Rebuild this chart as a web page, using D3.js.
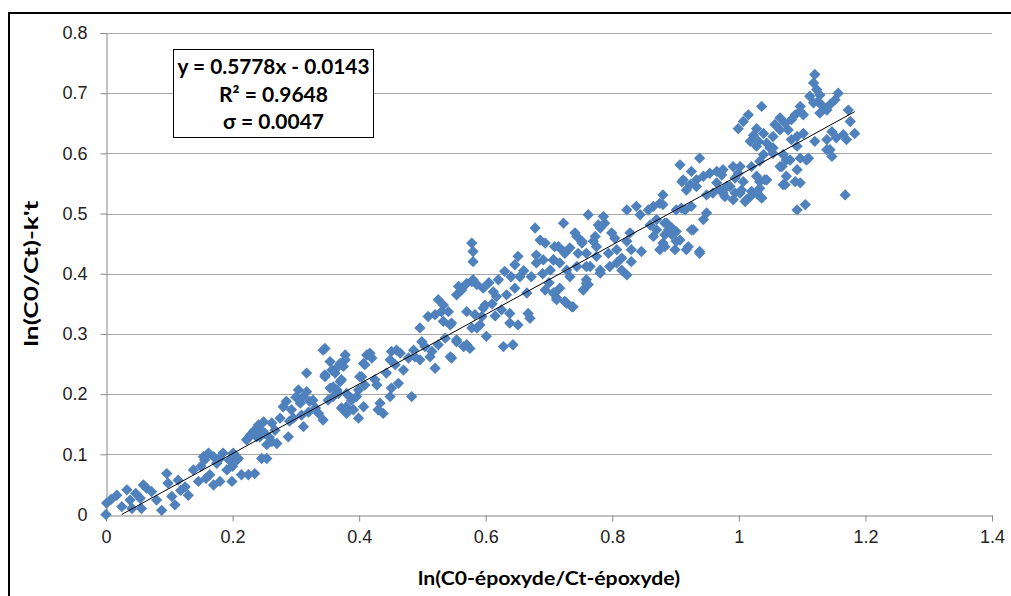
<!DOCTYPE html>
<html>
<head>
<meta charset="utf-8">
<script src="https://cdn.jsdelivr.net/npm/d3@7"></script>
<style>
  body { margin: 0; background: #fff; }
  svg { display: block; font-family: Lato, "Open Sans", sans-serif; }
</style>
</head>
<body>
<svg></svg>
<script>
const width = 1011;
const height = 596;

// x = ln(C0-epoxyde/Ct-epoxyde), y = ln(C0/Ct)-k't
const points = [
  [0.000,0.000],[0.001,0.019],[0.017,0.032],[0.033,0.041],[0.025,0.013],[0.038,0.024],[0.041,0.010],
  [0.054,0.027],[0.059,0.049],[0.064,0.044],[0.056,0.010],[0.080,0.024],[0.088,0.007],[0.096,0.068],
  [0.098,0.052],[0.104,0.030],[0.109,0.016],[0.114,0.057],[0.125,0.046],[0.130,0.032],[0.138,0.074],
  [0.146,0.055],[0.154,0.096],[0.162,0.102],[0.164,0.066],[0.170,0.049],[0.175,0.085],[0.180,0.055],
  [0.185,0.102],[0.191,0.074],[0.199,0.055],[0.207,0.091],[0.214,0.066],[0.225,0.066],[0.235,0.068],
  [0.225,0.127],[0.235,0.140],[0.243,0.129],[0.246,0.093],[0.008,0.025],[0.047,0.035],[0.072,0.038],
  [0.118,0.040],[0.150,0.080],[0.158,0.060],[0.195,0.090],[0.200,0.080],
  [0.156,0.091],[0.170,0.096],[0.180,0.093],[0.201,0.102],[0.209,0.093],[0.254,0.093],[0.222,0.124],
  [0.233,0.138],[0.241,0.149],[0.249,0.154],[0.238,0.129],[0.251,0.135],[0.262,0.152],[0.267,0.140],
  [0.262,0.121],[0.270,0.118],[0.288,0.129],[0.280,0.179],[0.285,0.188],[0.293,0.174],[0.304,0.207],
  [0.312,0.196],[0.317,0.204],[0.307,0.185],[0.322,0.188],[0.309,0.165],[0.312,0.146],[0.331,0.177],
  [0.327,0.190],[0.336,0.168],[0.343,0.157],[0.317,0.235],[0.343,0.273],[0.354,0.254],[0.346,0.232],
  [0.362,0.235],[0.370,0.251],[0.378,0.265],[0.375,0.246],[0.354,0.210],[0.365,0.207],[0.370,0.221],
  [0.359,0.196],[0.380,0.201],[0.388,0.190],[0.396,0.196],[0.372,0.177],[0.380,0.168],[0.399,0.160],
  [0.407,0.251],[0.412,0.265],[0.401,0.229],[0.409,0.215],[0.407,0.179],[0.254,0.116],[0.275,0.160],
  [0.296,0.160],[0.300,0.195],[0.320,0.170],[0.290,0.155],[0.258,0.128],[0.245,0.140],[0.228,0.132],
  [0.346,0.276],[0.357,0.240],[0.346,0.229],[0.367,0.246],[0.378,0.257],[0.372,0.224],[0.359,0.212],
  [0.367,0.201],[0.351,0.190],[0.388,0.193],[0.380,0.179],[0.391,0.174],[0.399,0.207],[0.404,0.229],
  [0.409,0.249],[0.417,0.268],[0.420,0.260],[0.425,0.224],[0.428,0.215],[0.433,0.185],[0.430,0.174],
  [0.438,0.168],[0.443,0.235],[0.449,0.257],[0.451,0.271],[0.459,0.273],[0.465,0.268],[0.457,0.249],
  [0.462,0.218],[0.451,0.210],[0.449,0.196],[0.483,0.196],[0.470,0.240],[0.478,0.260],[0.486,0.273],
  [0.488,0.262],[0.496,0.310],[0.499,0.287],[0.504,0.279],[0.496,0.257],[0.512,0.262],[0.520,0.243],
  [0.515,0.271],[0.509,0.329],[0.520,0.332],[0.525,0.357],[0.533,0.348],[0.533,0.321],[0.525,0.282],
  [0.536,0.293],[0.541,0.337],[0.546,0.318],[0.546,0.260],[0.554,0.290],[0.554,0.365],[0.562,0.376],
  [0.570,0.384],[0.580,0.390],[0.586,0.382],[0.596,0.376],[0.570,0.337],[0.565,0.279],[0.575,0.276],
  [0.586,0.310],[0.594,0.329],[0.599,0.348],[0.601,0.296],
  [0.578,0.451],[0.580,0.437],[0.580,0.420],[0.578,0.387],[0.557,0.379],[0.562,0.373],[0.530,0.337],
  [0.544,0.315],[0.583,0.332],[0.596,0.343],[0.591,0.315],[0.578,0.310],[0.570,0.282],[0.554,0.287],
  [0.544,0.262],[0.628,0.279],[0.643,0.282],[0.612,0.370],[0.617,0.362],[0.630,0.404],[0.633,0.365],
  [0.638,0.334],[0.638,0.318],[0.651,0.315],[0.667,0.334],[0.670,0.326],[0.651,0.429],[0.646,0.415],
  [0.654,0.395],[0.665,0.368],[0.646,0.376],[0.680,0.431],[0.680,0.418],[0.691,0.423],[0.678,0.476],
  [0.686,0.456],[0.694,0.451],[0.694,0.373],[0.702,0.406],[0.707,0.423],[0.709,0.368],[0.712,0.357],
  [0.717,0.376],[0.715,0.445],[0.723,0.484],[0.725,0.434],[0.728,0.351],[0.738,0.345],[0.733,0.395],
  [0.744,0.462],[0.752,0.451],[0.746,0.434],[0.762,0.498],[0.765,0.412],[0.759,0.390],[0.754,0.373],
  [0.773,0.462],[0.775,0.445],[0.778,0.481],[0.605,0.385],[0.620,0.390],[0.640,0.395],[0.660,0.405],
  [0.672,0.395],[0.690,0.400],[0.700,0.385],[0.610,0.350],[0.625,0.340],[0.615,0.330],
  [0.786,0.495],[0.788,0.484],[0.741,0.468],[0.752,0.454],[0.781,0.476],[0.770,0.454],[0.799,0.468],
  [0.804,0.459],[0.709,0.445],[0.723,0.437],[0.733,0.443],[0.759,0.434],[0.775,0.429],[0.794,0.434],
  [0.807,0.440],[0.823,0.454],[0.828,0.468],[0.815,0.426],[0.830,0.440],[0.846,0.437],[0.830,0.420],
  [0.707,0.423],[0.717,0.418],[0.728,0.406],[0.744,0.412],[0.759,0.412],[0.781,0.406],[0.796,0.412],
  [0.807,0.418],[0.759,0.384],[0.781,0.401],[0.815,0.406],[0.823,0.398],[0.762,0.382],[0.707,0.368],
  [0.712,0.360],[0.725,0.354],[0.736,0.345],[0.823,0.506],[0.838,0.512],[0.844,0.498],[0.857,0.506],
  [0.865,0.512],[0.875,0.517],[0.880,0.531],[0.860,0.481],[0.870,0.490],[0.870,0.473],[0.883,0.484],
  [0.889,0.473],[0.865,0.462],[0.875,0.440],[0.880,0.451],[0.894,0.465],[0.901,0.454],[0.901,0.506],
  [0.909,0.509],[0.917,0.440],[0.928,0.473],[0.938,0.437],[0.944,0.490],[0.949,0.501],[0.912,0.556],
  [0.923,0.548],[0.933,0.545],[0.944,0.562],[0.949,0.531],[0.959,0.534],[0.965,0.551],
  [0.907,0.581],[0.938,0.592],[0.925,0.570],[0.910,0.553],[0.917,0.539],[0.933,0.556],[0.954,0.567],
  [0.965,0.570],[0.973,0.564],[0.991,0.578],[0.999,0.567],[0.970,0.539],[0.978,0.528],[0.986,0.545],
  [0.994,0.534],[1.004,0.539],[1.010,0.520],[1.018,0.528],[1.028,0.534],[1.036,0.526],[1.044,0.556],
  [1.033,0.553],[1.007,0.553],[1.018,0.620],[1.028,0.612],[1.054,0.609],[1.070,0.548],[1.065,0.578],
  [1.075,0.589],[0.880,0.515],[0.915,0.506],[0.925,0.512],[0.886,0.484],[0.894,0.476],[0.901,0.470],
  [0.883,0.465],[0.907,0.456],[0.883,0.445],[0.899,0.440],[0.925,0.473],[0.920,0.445],[0.938,0.434],
  [1.120,0.731],[1.118,0.717],[1.123,0.706],[1.112,0.695],[1.128,0.697],[1.157,0.700],[1.152,0.689],
  [1.125,0.686],[1.118,0.684],[1.133,0.678],[1.144,0.681],[1.128,0.667],[1.139,0.672],[1.097,0.678],
  [1.102,0.664],[1.036,0.678],[1.015,0.664],[1.007,0.653],[0.999,0.641],[1.065,0.659],[1.073,0.650],
  [1.083,0.656],[1.089,0.664],[1.097,0.670],[1.078,0.639],[1.065,0.639],[1.057,0.648],[1.028,0.641],
  [1.023,0.630],[1.039,0.633],[1.031,0.620],[1.044,0.617],[1.054,0.628],[1.092,0.628],[1.083,0.623],
  [1.102,0.633],[1.120,0.620],[1.147,0.636],[1.139,0.623],[1.154,0.626],[1.165,0.631],[1.173,0.672],
  [1.176,0.653],[1.183,0.633],[1.170,0.623],[1.049,0.609],[1.054,0.600],[1.070,0.598],[1.081,0.589],
  [1.097,0.592],[1.092,0.612],[1.107,0.589],[1.139,0.606],[1.147,0.595],[1.039,0.598],[1.033,0.587],
  [1.068,0.578],[1.092,0.573],[1.075,0.562],[1.073,0.548],[1.089,0.553],[1.097,0.551],[1.041,0.556],
  [1.028,0.562],[1.033,0.542],[1.020,0.537],[1.036,0.526],[0.994,0.559],[0.981,0.545],[1.002,0.534],
  [1.012,0.523],[0.991,0.523],[0.975,0.534],[1.092,0.506],[1.105,0.515],[1.168,0.531],[1.002,0.578],
  [0.975,0.573],[1.020,0.578],[1.110,0.592],[1.144,0.606]
];

const xTicks = [0, 0.2, 0.4, 0.6, 0.8, 1, 1.2, 1.4];
const xTickLabels = ["0", "0.2", "0.4", "0.6", "0.8", "1", "1.2", "1.4"];
const yTicks = [0, 0.1, 0.2, 0.3, 0.4, 0.5, 0.6, 0.7, 0.8];
const yTickLabels = ["0", "0.1", "0.2", "0.3", "0.4", "0.5", "0.6", "0.7", "0.8"];

const slope = 0.5778;
const intercept = -0.0143;
const fitLabels = ["y = 0.5778x - 0.0143", "R² = 0.9648", "σ = 0.0047"];
const fitLabelWidths = [192, 109, 101];

const xTitle = "ln(C0-époxyde/Ct-époxyde)";
const yTitle = "ln(C0/Ct)-k't";

const margin = { top: 33, right: 19, bottom: 81.5, left: 106 };
const plotW = width - margin.left - margin.right;
const plotH = height - margin.top - margin.bottom;

const svg = d3.select("svg")
    .attr("width", width)
    .attr("height", height);

// outer frame (only top and left edges are visible)
svg.append("path")
    .attr("d", `M9,${height} V13 H${width}`)
    .attr("fill", "none")
    .attr("stroke", "#000")
    .attr("stroke-width", 2);

const x = d3.scaleLinear().domain([0, 1.4]).range([0, plotW]);
const y = d3.scaleLinear().domain([0, 0.8]).range([plotH, 0]);

const g = svg.append("g")
    .attr("transform", `translate(${margin.left},${margin.top})`);

// horizontal gridlines
g.append("g")
    .selectAll("line")
    .data(yTicks.filter(d => d > 0))
    .join("line")
    .attr("x1", 0)
    .attr("x2", plotW)
    .attr("y1", d => Math.round(y(d)) + 0.5)
    .attr("y2", d => Math.round(y(d)) + 0.5)
    .attr("stroke", "#a6a6a6")
    .attr("stroke-width", 1);

const xAxis = g.append("g")
    .attr("transform", `translate(0,${Math.round(plotH) + 0.5})`)
    .call(d3.axisBottom(x)
        .tickValues(xTicks)
        .tickFormat((d, i) => xTickLabels[i])
        .tickSizeInner(6)
        .tickSizeOuter(0)
        .tickPadding(9));

const yAxis = g.append("g")
    .attr("transform", "translate(0.5,0)")
    .call(d3.axisLeft(y)
        .tickValues(yTicks)
        .tickFormat((d, i) => yTickLabels[i])
        .tickSizeInner(6)
        .tickSizeOuter(0)
        .tickPadding(13));

[xAxis, yAxis].forEach(ax => {
    ax.select(".domain").attr("stroke", "#868686");
    ax.selectAll(".tick line").attr("stroke", "#868686");
    ax.selectAll(".tick text")
        .attr("fill", "#222")
        .style("font-size", "18px");
});

// markers
const diamond = d3.symbol().type(d3.symbolSquare).size(64);
g.append("g")
    .selectAll("path")
    .data(points)
    .join("path")
    .attr("d", diamond)
    .attr("transform", d => `translate(${x(d[0])},${y(d[1])}) rotate(45)`)
    .attr("fill", "#4f81bd");

// linear trendline, clipped at y = 0
const x0 = -intercept / slope;
const x1 = d3.max(points, d => d[0]);
g.append("line")
    .attr("x1", x(x0))
    .attr("y1", y(slope * x0 + intercept))
    .attr("x2", x(x1))
    .attr("y2", y(slope * x1 + intercept))
    .attr("stroke", "#000")
    .attr("stroke-width", 1);

// equation box
const box = svg.append("g");
box.append("rect")
    .attr("x", 173.5)
    .attr("y", 49.5)
    .attr("width", 200)
    .attr("height", 88)
    .attr("fill", "#fff")
    .attr("stroke", "#000")
    .attr("stroke-width", 1);

box.selectAll("text")
    .data(fitLabels)
    .join("text")
    .attr("x", 273.5)
    .attr("y", (d, i) => 74 + i * 27.5)
    .attr("text-anchor", "middle")
    .attr("font-weight", "bold")
    .attr("textLength", (d, i) => fitLabelWidths[i])
    .attr("lengthAdjust", "spacingAndGlyphs")
    .style("font-size", "20px")
    .attr("fill", "#000")
    .text(d => d);

// axis titles
svg.append("text")
    .attr("x", margin.left + plotW / 2)
    .attr("y", 585)
    .attr("text-anchor", "middle")
    .attr("font-weight", "bold")
    .attr("textLength", 262)
    .attr("lengthAdjust", "spacingAndGlyphs")
    .style("font-size", "19px")
    .attr("fill", "#000")
    .text(xTitle);

svg.append("text")
    .attr("transform", `translate(38,${margin.top + plotH / 2}) rotate(-90)`)
    .attr("text-anchor", "middle")
    .attr("font-weight", "bold")
    .attr("textLength", 146)
    .attr("lengthAdjust", "spacingAndGlyphs")
    .style("font-size", "18px")
    .attr("fill", "#000")
    .text(yTitle);
</script>
</body>
</html>
